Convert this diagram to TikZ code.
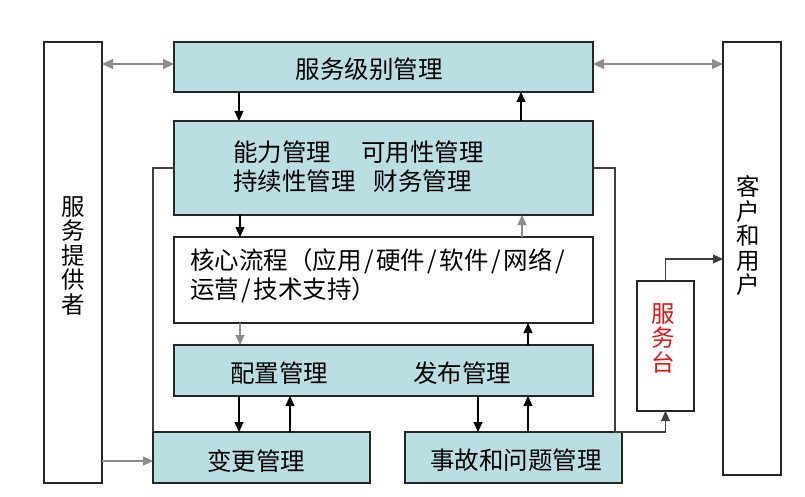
\documentclass[tikz,border=0pt]{standalone}
\usepackage{fontspec}
\newfontfamily\cjk{Noto Sans CJK SC}
\usetikzlibrary{arrows.meta}
\definecolor{boxfill}{RGB}{185,223,227}
\definecolor{lgray}{RGB}{140,140,140}
\definecolor{dred}{RGB}{230,20,20}
\newcommand\myslash{\hspace{2.5pt}/\hspace{2.5pt}}
\tikzset{
  box/.style={draw=black!85, line width=1.3pt, fill=boxfill, inner sep=0pt, outer sep=0pt},
  wbox/.style={draw=black!85, line width=1.3pt, fill=white, inner sep=0pt, outer sep=0pt},
  txt/.style={font=\cjk\fontsize{24.5}{29}\selectfont, inner sep=0pt, align=left},
  vtxt/.style={font=\cjk\fontsize{23.5}{24.5}\selectfont, inner sep=0pt, align=center},
  barrow/.style={draw=black, line width=1.1pt, -{Triangle[length=10pt,width=9pt]}},
  garrow/.style={draw=lgray, line width=1.1pt, -{Triangle[length=10pt,width=9pt]}},
  gdarrow/.style={draw=lgray, line width=1.1pt, {Triangle[length=11pt,width=10pt]}-{Triangle[length=11pt,width=10pt]}},
  conn/.style={draw=black!75, line width=1.1pt},
}
\begin{document}
\begin{tikzpicture}[x=1pt,y=-1pt]
\useasboundingbox[fill=white] (0,0) rectangle (805,497);
% column coordinates
\coordinate (cA) at (239,0);
\coordinate (cA2) at (240,0);
\coordinate (cB) at (521,0);
\coordinate (cB2) at (522,0);
\coordinate (cC) at (528,0);
\coordinate (cD) at (290,0);
\coordinate (cE) at (478,0);
\coordinate (cR) at (615,0);
\coordinate (cT) at (0,259);
\coordinate (cL) at (153,0);
% boxes
\node[wbox, minimum width=58pt, minimum height=441pt] (lp) at (73,262.5) {};
\node[vtxt] (lpt) at (73,256) {服\\务\\提\\供\\者};
\node[wbox, minimum width=58pt, minimum height=433pt] (rp) at (752,258.5) {};
\node[vtxt] (rpt) at (748,236) {客\\户\\和\\用\\户};

\node[box, minimum width=419pt, minimum height=50pt] (slm) at (383.5,67) {};
\node[txt] (slmt) at (369,69) {服务级别管理};

\node[box, minimum width=419pt, minimum height=94pt] (cap) at (383.5,168) {};
\node[txt, anchor=west] (capt) at (233,167) {能力管理\hspace{30pt}可用性管理\\持续性管理\hspace{18pt}财务管理};

\node[wbox, minimum width=419pt, minimum height=86pt] (core) at (383.5,280) {};
\node[txt, anchor=west] (coret) at (190,276) {核心流程（应用\myslash 硬件\myslash 软件\myslash 网络\myslash\\运营\myslash 技术支持）};

\node[box, minimum width=419pt, minimum height=51pt] (cfg) at (383.5,370.5) {};
\node[txt] (cfgt) at (279,373) {配置管理};
\node[txt] (relt) at (462,373) {发布管理};

\node[box, minimum width=217pt, minimum height=51pt] (chg) at (261.5,457.5) {};
\node[txt] (chgt) at (256,461) {变更管理};

\node[box, minimum width=217pt, minimum height=51pt] (inc) at (513.5,457.5) {};
\node[txt] (inct) at (516,460) {事故和问题管理};

\node[wbox, minimum width=57pt, minimum height=130pt] (sd) at (665.5,346) {};
\node[vtxt, text=dred] (sdt) at (663,338) {服\\务\\台};

% connectors
\draw[gdarrow] ([yshift=3pt]lp.east |- slm.west) -- ([yshift=3pt]slm.west);
\draw[gdarrow] ([yshift=3pt]slm.east) -- ([yshift=3pt]rp.west |- slm.east);

\draw[barrow] (slm.south -| cA) -- (cap.north -| cA);
\draw[barrow] (cap.north -| cB) -- (slm.south -| cB);
\draw[barrow] (cap.south -| cA2) -- (core.north -| cA2);
\draw[garrow] (core.north -| cB2) -- (cap.south -| cB2);
\draw[garrow] (core.south -| cA2) -- (cfg.north -| cA2);
\draw[barrow] (cfg.north -| cC) -- (core.south -| cC);
\draw[barrow] (cfg.south -| cA) -- (chg.north -| cA);
\draw[barrow] (chg.north -| cD) -- (cfg.south -| cD);
\draw[barrow] (cfg.south -| cE) -- (inc.north -| cE);
\draw[barrow] (inc.north -| cC) -- (cfg.south -| cC);

\draw[garrow] ([yshift=-3.5pt]lp.east |- chg.west) -- ([yshift=-3.5pt]chg.west);
\draw[conn] (cap.west) -- (cap.west -| cL) -- (chg.north west);
\draw[conn, -{Triangle[length=10pt,width=9pt]}] (cap.east) -- (cap.east -| cR) -- (inc.north -| cR) -- (inc.north -| sd.south) -- (sd.south);
\draw[conn, -{Triangle[length=10pt,width=9pt]}] (sd.north) |- (rp.west |- cT);
\end{tikzpicture}
\end{document}
